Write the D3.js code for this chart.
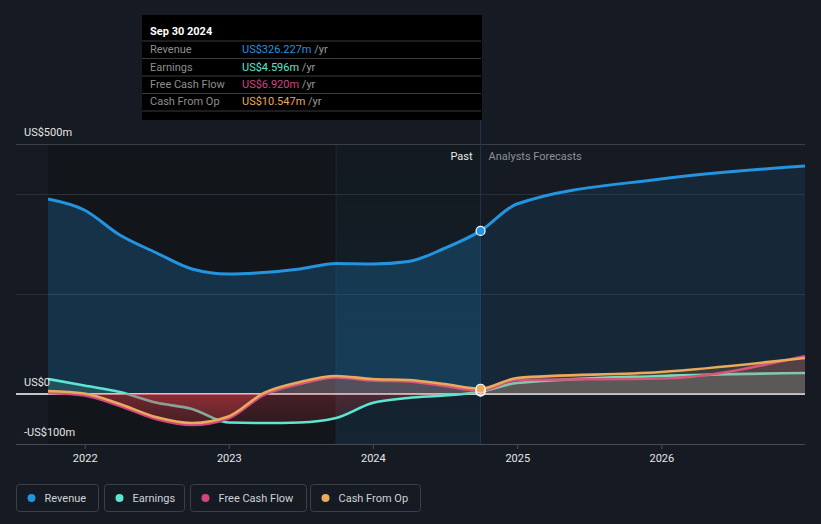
<!DOCTYPE html>
<html><head><meta charset="utf-8">
<script src="https://cdn.jsdelivr.net/npm/d3@7"></script>
<style>
html,body{margin:0;padding:0;background:#151a23;}
svg{display:block;font-family:Roboto,"Noto Sans",sans-serif;}
</style></head>
<body>
<svg id="chart" width="821" height="524"></svg>
<script>
// ---------- DATA ----------
const pastDates = ["2021-09-30","2021-12-31","2022-03-31","2022-06-30","2022-09-30","2022-12-31","2023-03-31","2023-06-30","2023-09-30","2023-12-31","2024-03-31","2024-06-30","2024-09-30"];
const forecastDates = ["2024-12-31","2025-12-31","2026-12-31"];
const revenuePast = [390, 368, 318, 283, 250, 240, 243, 250, 261, 260, 265, 291, 326.227];
const revenueForecast = [380, 430, 456];
const earningsPast = [30, 17, 4, -17, -30, -57, -58, -57, -48, -18, -8, -3, 4.596];
const earningsForecast = [22, 36, 42];
const fcfPast = [2, -3, -24, -50, -62, -49, -2, 20, 33, 27, 25, 16, 6.92];
const fcfForecast = [28, 31, 76];
const cfoPast = [6, 1, -20, -46, -58, -45, 2, 24, 36, 30, 28, 20, 10.547];
const cfoForecast = [32, 44, 72];
const seriesNames = ["Revenue","Earnings","Free Cash Flow","Cash From Op"];
const seriesColors = ["#2394df","#5de6cf","#d0457f","#e9aa5b"];
const tooltipValues = ["US$326.227m","US$4.596m","US$6.920m","US$10.547m"];
const tooltipTitle = "Sep 30 2024";
const yLabelValues = [500, 0, -100];
const yLabelTexts = ["US$500m","US$0","-US$100m"];
const gridValues = [500, 400, 200];
const xTickYears = [2022, 2023, 2024, 2025, 2026];
const highlightStart = "2023-09-30";

// ---------- SETUP ----------
const parse = d3.timeParse("%Y-%m-%d");
const svg = d3.select("#chart");
const x = d3.scaleTime().domain([parse("2021-09-30"), parse("2026-12-31")]).range([48, 805]);
const y = d3.scaleLinear().domain([-100, 500]).range([444, 144]);
const plotLeft = 16, plotRight = 805, plotTop = 144, plotBottom = 444;
const allDates = pastDates.concat(forecastDates).map(parse);
const mk = (p, f) => allDates.map((d, i) => ({d, v: i < p.length ? p[i] : f[i - p.length]}));
const series = [mk(revenuePast, revenueForecast), mk(earningsPast, earningsForecast), mk(fcfPast, fcfForecast), mk(cfoPast, cfoForecast)];
const xNow = x(parse(pastDates[pastDates.length - 1]));
const xStart = x(parse(pastDates[0]));
const xHi = x(parse(highlightStart));

const defs = svg.append("defs");
const hiGrad = defs.append("linearGradient").attr("id","hiGrad").attr("x1",0).attr("y1",0).attr("x2",0).attr("y2",1);
hiGrad.append("stop").attr("offset","0%").attr("stop-color","#2394df").attr("stop-opacity",0.03);
hiGrad.append("stop").attr("offset","100%").attr("stop-color","#2394df").attr("stop-opacity",0.12);
const negGrad = defs.append("linearGradient").attr("id","negGrad").attr("gradientUnits","userSpaceOnUse")
  .attr("x1",0).attr("y1",y(0)).attr("x2",0).attr("y2",plotBottom);
negGrad.append("stop").attr("offset","0%").attr("stop-color","#d03a44").attr("stop-opacity",0.28);
negGrad.append("stop").attr("offset","100%").attr("stop-color","#d03a44").attr("stop-opacity",0.06);
defs.append("clipPath").attr("id","clipPast").append("rect").attr("x",0).attr("y",0).attr("width",xNow).attr("height",524);
defs.append("clipPath").attr("id","clipFut").append("rect").attr("x",xNow).attr("y",0).attr("width",821-xNow).attr("height",524);
defs.append("clipPath").attr("id","clipPos").append("rect").attr("x",0).attr("y",0).attr("width",821).attr("height",y(0));
defs.append("clipPath").attr("id","clipNeg").append("rect").attr("x",0).attr("y",y(0)).attr("width",821).attr("height",524-y(0));

// background regions
svg.append("rect").attr("x",xStart).attr("y",plotTop).attr("width",xNow-xStart).attr("height",plotBottom-plotTop).attr("fill","#121519");
svg.append("rect").attr("x",xHi).attr("y",plotTop).attr("width",xNow-xHi).attr("height",plotBottom-plotTop).attr("fill","url(#hiGrad)");
svg.append("line").attr("x1",xHi).attr("x2",xHi).attr("y1",plotTop).attr("y2",plotBottom).attr("stroke","#1c2a38").attr("stroke-width",1);

// grid
svg.selectAll(".grid").data(gridValues).join("line")
  .attr("x1",plotLeft).attr("x2",plotRight).attr("y1",d=>y(d)+0.5).attr("y2",d=>y(d)+0.5)
  .attr("stroke",d=>d===500?"#3a4049":"#2a3039").attr("stroke-width",1);

// x axis
const xAxis = d3.axisBottom(x).tickValues(xTickYears.map(yr=>new Date(yr,0,1))).tickFormat(d3.timeFormat("%Y")).tickSize(5).tickSizeOuter(0);
const gx = svg.append("g").attr("transform",`translate(0,${plotBottom})`).call(xAxis);
gx.select(".domain").remove();
gx.selectAll(".tick line").attr("stroke","#4a505a");
gx.selectAll(".tick text").attr("fill","#e6e6e6").attr("font-size",11).attr("dy","0.95em").attr("font-family","Roboto,sans-serif");
svg.append("line").attr("x1",plotLeft).attr("x2",plotRight).attr("y1",plotBottom+0.5).attr("y2",plotBottom+0.5).attr("stroke","#444a54").attr("stroke-width",1);

// vertical "now" line
svg.append("line").attr("x1",xNow).attr("x2",xNow).attr("y1",120).attr("y2",plotBottom).attr("stroke","#22354a").attr("stroke-width",1);

const curve = d3.curveMonotoneX;
const area0 = d3.area().curve(curve).x(d=>x(d.d)).y0(y(0)).y1(d=>y(d.v));
const line = d3.line().curve(curve).x(d=>x(d.d)).y(d=>y(d.v));

// revenue
svg.append("path").datum(series[0]).attr("d",area0).attr("fill",seriesColors[0]).attr("fill-opacity",0.24).attr("clip-path","url(#clipPast)");
svg.append("path").datum(series[0]).attr("d",area0).attr("fill",seriesColors[0]).attr("fill-opacity",0.11).attr("clip-path","url(#clipFut)");
svg.append("path").datum(series[0]).attr("d",line).attr("fill","none").attr("stroke",seriesColors[0]).attr("stroke-width",3);

// zero line
svg.append("line").attr("x1",plotLeft).attr("x2",plotRight).attr("y1",y(0)).attr("y2",y(0)).attr("stroke","#ffffff").attr("stroke-width",1.5);

// lower series
for (let i = 1; i < 4; i++) {
  const g = svg.append("g");
  g.append("path").datum(series[i]).attr("d",area0).attr("fill",seriesColors[i]).attr("fill-opacity",0.17).attr("clip-path","url(#clipPos)");
  g.append("path").datum(series[i]).attr("d",area0).attr("fill","url(#negGrad)").attr("clip-path","url(#clipNeg)");
  g.append("path").datum(series[i]).attr("d",line).attr("fill","none").attr("stroke",seriesColors[i]).attr("stroke-width",2.6);
}

// dots at now
const nowIdx = pastDates.length - 1;
[1,2,3,0].forEach(i => {
  svg.append("circle").attr("cx",xNow).attr("cy",y(series[i][nowIdx].v)).attr("r",4.5)
    .attr("fill",seriesColors[i]).attr("stroke","#ffffff").attr("stroke-width",1.2);
});

// Past / Forecast labels
svg.append("text").attr("x",xNow-8).attr("y",160).attr("text-anchor","end").attr("fill","#e8e8e8").attr("font-size",11).text("Past");
svg.append("text").attr("x",xNow+8).attr("y",160).attr("fill","#8b9099").attr("font-size",11).text("Analysts Forecasts");

// y labels
svg.selectAll(".ylab").data(yLabelValues).join("text")
  .attr("x",24).attr("y",d=>y(d)-8).attr("fill","#e6e6e6").attr("font-size",11)
  .text((d,i)=>yLabelTexts[i]);

// tooltip
const tt = svg.append("g");
tt.append("rect").attr("x",142).attr("y",15).attr("width",340).attr("height",105).attr("fill","#000000");
tt.append("text").attr("x",150).attr("y",35).attr("fill","#ffffff").attr("font-size",11).attr("font-weight","bold").text(tooltipTitle);
const sepY = [41, 58.5, 76, 93.5, 111];
sepY.forEach(sy => tt.append("line").attr("x1",142).attr("x2",481).attr("y1",sy).attr("y2",sy).attr("stroke","#3a3a3a").attr("stroke-width",1));
const rowY = [53, 70.5, 88, 105];
seriesNames.forEach((n,i) => {
  tt.append("text").attr("x",150).attr("y",rowY[i]).attr("fill","#8e8e8e").attr("font-size",11).text(n);
  const t = tt.append("text").attr("x",242).attr("y",rowY[i]).attr("font-size",11);
  t.append("tspan").attr("fill",seriesColors[i]).text(tooltipValues[i]);
  t.append("tspan").attr("fill","#9a9a9a").text(" /yr");
});

// legend
const legX = [16, 104, 190, 310];
const legW = [82, 80, 116, 110];
seriesNames.forEach((n,i) => {
  const g = svg.append("g").attr("transform",`translate(${legX[i]},484)`);
  g.append("rect").attr("x",0.5).attr("y",0.5).attr("width",legW[i]).attr("height",27).attr("rx",3)
    .attr("fill","none").attr("stroke","#3a404a");
  g.append("circle").attr("cx",15.5).attr("cy",14).attr("r",4).attr("fill",seriesColors[i]);
  g.append("text").attr("x",28.5).attr("y",18).attr("fill","#cfd2d6").attr("font-size",11).text(n);
});
</script>
</body></html>
